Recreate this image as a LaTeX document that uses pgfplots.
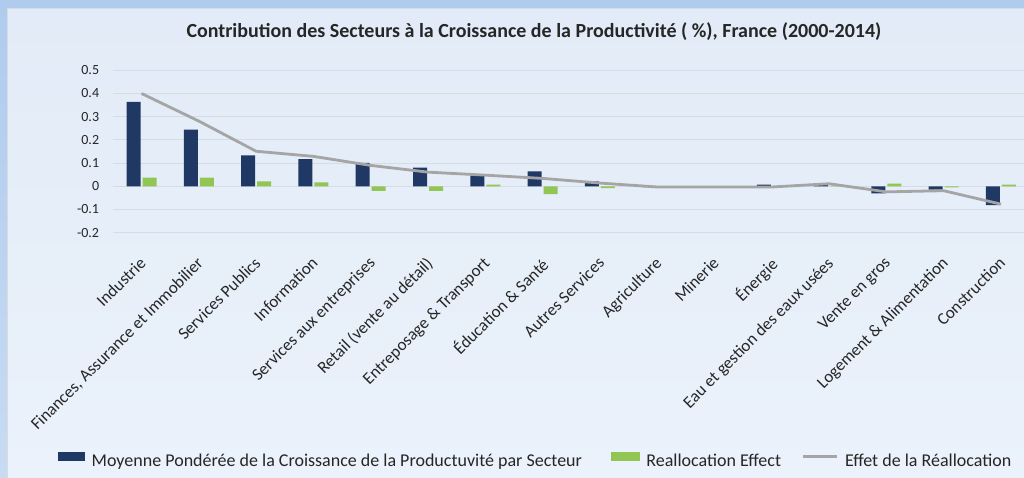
\documentclass[border=0pt]{standalone}
\usepackage{pgfplots}
\pgfplotsset{compat=1.18}
\usepackage{fontspec}
\setmainfont{Carlito}
\definecolor{navy}{HTML}{1F3864}
\definecolor{lgreen}{HTML}{92C654}
\definecolor{lgrey}{HTML}{A5A5A5}
\definecolor{gridc}{HTML}{D6DCE4}
\definecolor{outert}{HTML}{AFCBEE}
\definecolor{outerb}{HTML}{C8DBF2}
\definecolor{innert}{HTML}{E2EBF7}
\definecolor{innerb}{HTML}{EBF2FB}
\definecolor{txt}{HTML}{262626}
\begin{document}
\begin{tikzpicture}[x=1pt,y=1pt]
\useasboundingbox (0,0) rectangle (1024,478);
\shade[top color=outert, bottom color=outerb] (0,0) rectangle (1024,478);
\shade[top color=innert, bottom color=innerb] (7.5,-2) rectangle (1030,469);
\draw[gridc, line width=1pt] (7.5,-2) -- (7.5,469) -- (1030,469);
\begin{axis}[
  at={(112.9pt,245.3pt)}, anchor=south west, scale only axis,
  width=911pt, height=162.4pt,
  xmin=-0.5, xmax=15.4, ymin=-0.2, ymax=0.5,
  axis line style={draw=none},
  major tick length=0pt,
  ytick={-0.2,-0.1,0,0.1,0.2,0.3,0.4,0.5},
  yticklabels={-0.2,-0.1,0,0.1,0.2,0.3,0.4,0.5},
  ymajorgrids, grid style={gridc, line width=1pt},
  yticklabel style={font=\fontsize{14}{17}\selectfont, text=txt, inner sep=0pt, anchor=east, xshift=-13.6pt},
  xtick={0,...,15},
  xticklabels={Industrie,{Finances, Assurance et Immobilier},Services Publics,Information,Services aux entreprises,Retail (vente au détail),Entreposage \& Transport,Éducation \& Santé,Autres Services,Agriculture,Minerie,Énergie,Eau et gestion des eaux usées,Vente en gros,Logement \& Alimentation,Construction},
  xticklabel style={font=\fontsize{17}{20}\selectfont, text=txt, yshift=-23pt, xshift=-3pt, rotate=45, anchor=north east, inner sep=0pt},
  title={Contribution des Secteurs à la Croissance de la Productivité ( \%), France (2000-2014)},
  title style={font=\bfseries\fontsize{20}{24}\selectfont, text=txt, at={(0.4622,1.166)}, anchor=base, inner sep=0pt},
  legend columns=3,
  legend style={draw=none, fill=none, at={(-0.0608,-1.3996)}, anchor=west, inner sep=0pt,
    font=\fontsize{18}{22}\selectfont, text=txt,
    nodes={inner sep=0pt},
    /tikz/every odd column/.append style={column sep=6.5pt}},
  legend cell align=left,
  clip=false,
]
\addplot[ybar, bar width=14pt, bar shift=-8pt, fill=navy, draw=none,
  legend image code/.code={\fill[navy] (0pt,-0.5pt) rectangle (27.5pt,8.5pt);}]
  coordinates {(0,0.364) (1,0.244) (2,0.133) (3,0.117) (4,0.101) (5,0.080) (6,0.048) (7,0.064) (8,0.021) (9,-0.004) (10,-0.002) (11,0.007) (12,0.008) (13,-0.030) (14,-0.014) (15,-0.081)};
\addlegendentry{Moyenne Pondérée de la Croissance de la Productuvité par Secteur\hspace*{29pt}}
\addplot[ybar, bar width=14pt, bar shift=8pt, fill=lgreen, draw=none,
  legend image code/.code={\fill[lgreen] (0pt,-0.5pt) rectangle (29pt,8.5pt);}]
  coordinates {(0,0.037) (1,0.037) (2,0.021) (3,0.017) (4,-0.020) (5,-0.020) (6,0.007) (7,-0.034) (8,-0.008) (9,0.000) (10,0.000) (11,-0.003) (12,0.002) (13,0.011) (14,-0.005) (15,0.007)};
\addlegendentry{Reallocation Effect\hspace*{21pt}}
\addplot[lgrey, line width=2.8pt, mark=none,
  legend image code/.code={\draw[lgrey, line width=2.5pt] (0pt,4pt) -- (34pt,4pt);}]
  coordinates {(0,0.400) (1,0.281) (2,0.151) (3,0.129) (4,0.090) (5,0.061) (6,0.048) (7,0.034) (8,0.014) (9,-0.003) (10,-0.003) (11,-0.003) (12,0.011) (13,-0.024) (14,-0.019) (15,-0.077)};
\addlegendentry{Effet de la Réallocation}
\end{axis}
\end{tikzpicture}
\end{document}
